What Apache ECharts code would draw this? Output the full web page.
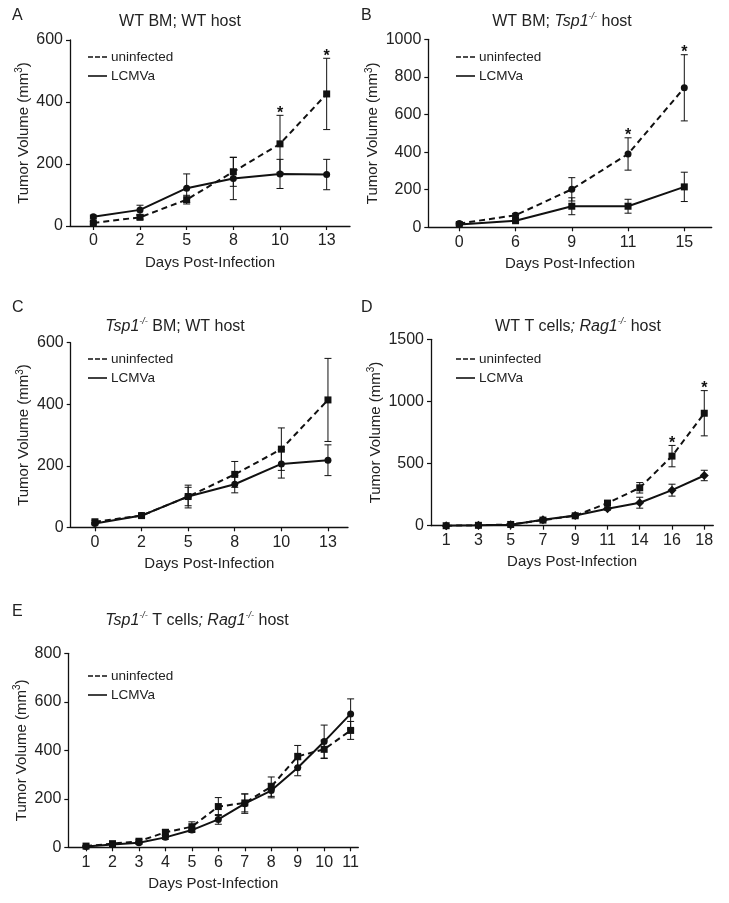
<!DOCTYPE html>
<html><head><meta charset="utf-8">
<script src="https://cdn.jsdelivr.net/npm/echarts@6/dist/echarts.min.js"></script>
<style>html,body{margin:0;padding:0;background:#fff}#c{width:729px;height:903px}</style>
</head><body><div id="c"></div>
<script>
// ---------- DATA ----------
const daysA = ['0', '2', '5', '8', '10', '13'];
const uninfA = [10, 28, 85, 175, 265, 426];
const uninfErrA = [4, 6, 14, 47, 92, 115];
const lcmvA = [30, 52, 122, 153, 168, 166];
const lcmvErrA = [5, 15, 46, 68, 47, 49];
const sigA = [4, 5];

const daysB = ['0', '6', '9', '11', '15'];
const uninfB = [20, 64, 202, 390, 742];
const uninfErrB = [5, 10, 62, 86, 176];
const lcmvB = [15, 35, 112, 112, 215];
const lcmvErrB = [5, 8, 45, 37, 78];
const sigB = [3, 4];

const daysC = ['0', '2', '5', '8', '10', '13'];
const uninfC = [18, 38, 100, 172, 254, 414];
const uninfErrC = [5, 6, 37, 42, 69, 135];
const lcmvC = [12, 38, 100, 140, 206, 218];
const lcmvErrC = [4, 5, 30, 28, 46, 50];
const sigC = [];

const daysD = ['1', '3', '5', '7', '9', '11', '14', '16', '18'];
const uninfD = [0, 3, 10, 45, 80, 182, 305, 560, 905];
const uninfErrD = [0, 2, 4, 8, 10, 18, 42, 86, 182];
const lcmvD = [0, 3, 8, 48, 82, 137, 185, 286, 404];
const lcmvErrD = [0, 2, 4, 8, 10, 12, 44, 48, 42];
const sigD = [7, 8];

const daysE = ['1', '2', '3', '4', '5', '6', '7', '8', '9', '10', '11'];
const uninfE = [5, 15, 25, 62, 85, 168, 183, 250, 375, 404, 482];
const uninfErrE = [3, 5, 6, 10, 20, 37, 37, 40, 45, 38, 37];
const lcmvE = [3, 12, 19, 41, 71, 115, 180, 234, 328, 436, 550];
const lcmvErrE = [2, 4, 5, 8, 10, 20, 40, 30, 33, 68, 62];
const sigE = [];

const yTicksA = {max: 600, step: 200};
const yTicksB = {max: 1000, step: 200};
const yTicksC = {max: 600, step: 200};
const yTicksD = {max: 1500, step: 500};
const yTicksE = {max: 800, step: 200};

const titleA = 'WT BM; WT host';
const titleB = 'WT BM; {it|Tsp1}{sup|-/-} host';
const titleC = '{it|Tsp1}{sup|-/-} BM; WT host';
const titleD = 'WT T cells{it|; Rag1}{sup|-/-} host';
const titleE = '{it|Tsp1}{sup|-/-} T cells{it|; Rag1}{sup|-/-} host';

// ---------- LAYOUT ----------
const INK = '#111';
const TXT = '#222';
const FONT = 'Arial, "Liberation Sans", Helvetica, sans-serif';

const panels = [
  {letter: 'A', days: daysA, u: uninfA, ue: uninfErrA, l: lcmvA, le: lcmvErrA, sig: sigA, yt: yTicksA, title: titleA,
   uSym: 'rect', lSym: 'circle',
   grid: {left: 70, top: 40, width: 280, height: 186}, xMin: -0.5, xMax: 5.5,
   titleX: 180, titleY: 12, legX: 88, legY: 50, letX: 12, letY: 8},
  {letter: 'B', days: daysB, u: uninfB, ue: uninfErrB, l: lcmvB, le: lcmvErrB, sig: sigB, yt: yTicksB, title: titleB,
   uSym: 'circle', lSym: 'rect',
   grid: {left: 428.3, top: 39.3, width: 283.4, height: 188}, xMin: -0.551, xMax: 4.487,
   titleX: 562, titleY: 12, legX: 456, legY: 50, letX: 361, letY: 8},
  {letter: 'C', days: daysC, u: uninfC, ue: uninfErrC, l: lcmvC, le: lcmvErrC, sig: sigC, yt: yTicksC, title: titleC,
   uSym: 'rect', lSym: 'circle',
   grid: {left: 70.7, top: 342.7, width: 277.3, height: 184.6}, xMin: -0.52, xMax: 5.43,
   titleX: 175, titleY: 317, legX: 88, legY: 352, letX: 12, letY: 300},
  {letter: 'D', days: daysD, u: uninfD, ue: uninfErrD, l: lcmvD, le: lcmvErrD, sig: sigD, yt: yTicksD, title: titleD,
   uSym: 'rect', lSym: 'diamond',
   grid: {left: 431, top: 339.3, width: 282.3, height: 186.4}, xMin: -0.47, xMax: 8.28,
   titleX: 578, titleY: 317, legX: 456, legY: 352, letX: 361, letY: 300},
  {letter: 'E', days: daysE, u: uninfE, ue: uninfErrE, l: lcmvE, le: lcmvErrE, sig: sigE, yt: yTicksE, title: titleE,
   uSym: 'rect', lSym: 'circle',
   grid: {left: 68.3, top: 653.3, width: 290, height: 194}, xMin: -0.67, xMax: 10.29,
   titleX: 197, titleY: 611, letX: 12, letY: 604, legX: 88, legY: 669}
];

const dashIcon = 'path://M0,0H5V1.6H0Z M7,0H12V1.6H7Z M14,0H19V1.6H14Z';
const solidIcon = 'path://M0,0H19V1.6H0Z';

function errRender(params, api) {
  const x = api.value(0), lo = api.value(1), hi = api.value(2);
  const pl = api.coord([x, lo]), ph = api.coord([x, hi]);
  const w = 3.5;
  const style = {stroke: INK, lineWidth: 1};
  return {type: 'group', children: [
    {type: 'line', shape: {x1: pl[0], y1: pl[1], x2: ph[0], y2: ph[1]}, style},
    {type: 'line', shape: {x1: ph[0] - w, y1: ph[1], x2: ph[0] + w, y2: ph[1]}, style},
    {type: 'line', shape: {x1: pl[0] - w, y1: pl[1], x2: pl[0] + w, y2: pl[1]}, style}
  ]};
}
function starRender(params, api) {
  const p = api.coord([api.value(0), api.value(1)]);
  return {type: 'text', x: p[0], y: p[1] - 2,
    style: {text: '*', fontSize: 16, fontFamily: FONT, fontWeight: 'bold', fill: INK, align: 'center', verticalAlign: 'middle'}};
}

const richTitle = {
  it: {fontStyle: 'italic', fontSize: 16, fontFamily: FONT, color: TXT, lineHeight: 20},
  sup: {fontStyle: 'italic', fontSize: 9, fontFamily: FONT, color: TXT, verticalAlign: 'top', lineHeight: 11}
};

const option = {
  animation: false,
  backgroundColor: '#fff',
  textStyle: {fontFamily: FONT},
  title: [], legend: [], grid: [], xAxis: [], yAxis: [], series: []
};

panels.forEach((p, k) => {
  option.title.push({text: p.title, left: p.titleX, top: p.titleY, textAlign: 'center', padding: 0,
    textStyle: {fontSize: 16, fontWeight: 'normal', color: TXT, fontFamily: FONT, lineHeight: 20, rich: richTitle}});
  option.title.push({text: p.letter, left: p.letX, top: p.letY, padding: 0,
    textStyle: {fontSize: 16, fontWeight: 'normal', color: TXT, fontFamily: FONT}});
  option.legend.push({
    left: p.legX, top: p.legY, orient: 'vertical', padding: 0, itemGap: 5,
    itemWidth: 19, itemHeight: 1.6, itemStyle: {color: INK, borderWidth: 0},
    symbolKeepAspect: false,
    textStyle: {fontSize: 13.5, color: TXT, fontFamily: FONT, lineHeight: 14, padding: [0, 0, 0, -1]},
    data: [{name: 'uninfected', icon: dashIcon}, {name: 'LCMVa', icon: solidIcon}]
  });
  option.grid.push(Object.assign({containLabel: false}, p.grid));
  const idx = p.days.map((d, i) => i);
  option.xAxis.push({
    type: 'value', gridIndex: k, min: p.xMin, max: p.xMax,
    name: 'Days Post-Infection', nameLocation: 'middle', nameGap: 29,
    nameTextStyle: {fontSize: 15, color: TXT, fontFamily: FONT},
    axisLine: {show: true, onZero: false, lineStyle: {color: INK, width: 1.3}},
    axisTick: {show: true, length: 4, lineStyle: {color: INK, width: 1.2}, customValues: idx},
    axisLabel: {fontSize: 16, color: TXT, margin: 7, fontFamily: FONT, customValues: idx,
      formatter: v => p.days[Math.round(v)]},
    splitLine: {show: false}
  });
  option.yAxis.push({
    type: 'value', gridIndex: k, min: 0, max: p.yt.max, interval: p.yt.step,
    name: 'Tumor Volume (mm{sup|3})', nameLocation: 'middle', nameGap: 37, nameRotate: 90,
    nameTextStyle: {fontSize: 15, color: TXT, fontFamily: FONT, lineHeight: 18,
      rich: {sup: {fontSize: 10, color: TXT, fontFamily: FONT, verticalAlign: 'top', lineHeight: 12}}},
    axisLine: {show: true, onZero: false, lineStyle: {color: INK, width: 1.3}},
    axisTick: {show: true, length: 4, lineStyle: {color: INK, width: 1.2}},
    axisLabel: {fontSize: 16, color: TXT, margin: 7, fontFamily: FONT, formatter: v => String(v)},
    splitLine: {show: false}
  });
  const mk = (vals) => vals.map((v, i) => [i, v]);
  const mkErr = (vals, errs) => vals.map((v, i) => [i, Math.max(0, v - errs[i]), v + errs[i]]);
  option.series.push({type: 'custom', xAxisIndex: k, yAxisIndex: k, renderItem: errRender, data: mkErr(p.u, p.ue), z: 2, silent: true});
  option.series.push({type: 'custom', xAxisIndex: k, yAxisIndex: k, renderItem: errRender, data: mkErr(p.l, p.le), z: 2, silent: true});
  option.series.push({type: 'line', name: 'uninfected', xAxisIndex: k, yAxisIndex: k, data: mk(p.u),
    symbol: p.uSym, symbolSize: 7, showAllSymbol: true,
    lineStyle: {color: INK, width: 2, type: [6, 4]}, itemStyle: {color: INK}, z: 3});
  option.series.push({type: 'line', name: 'LCMVa', xAxisIndex: k, yAxisIndex: k, data: mk(p.l),
    symbol: p.lSym, symbolSize: p.lSym === 'diamond' ? 9 : 7, showAllSymbol: true,
    lineStyle: {color: INK, width: 2}, itemStyle: {color: INK}, z: 3});
  if (p.sig.length) {
    option.series.push({type: 'custom', xAxisIndex: k, yAxisIndex: k, renderItem: starRender,
      data: p.sig.map(i => [i, p.u[i] + p.ue[i]]), z: 4, silent: true});
  }
});

const chart = echarts.init(document.getElementById('c'), null, {renderer: 'canvas'});
chart.setOption(option);
</script></body></html>
